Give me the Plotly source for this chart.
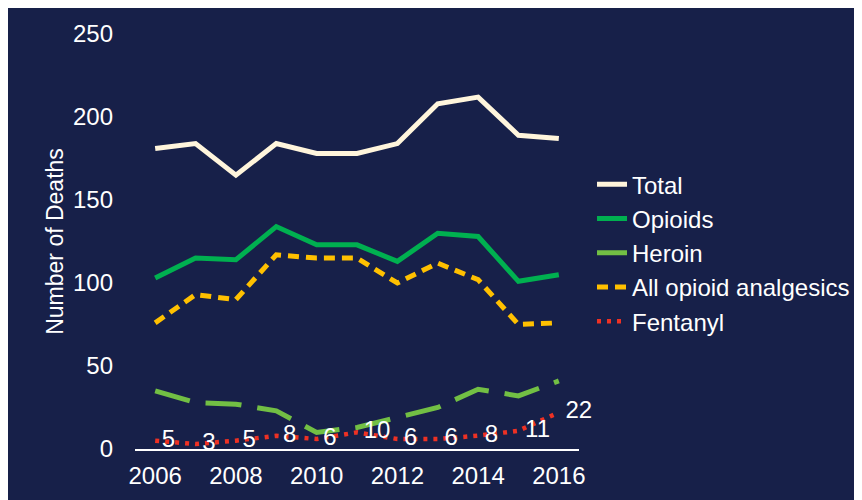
import plotly.graph_objects as go

years = [2006, 2007, 2008, 2009, 2010, 2011, 2012, 2013, 2014, 2015, 2016]
total = [181, 184, 165, 184, 178, 178, 184, 208, 212, 189, 187]
opioids = [103, 115, 114, 134, 123, 123, 113, 130, 128, 101, 105]
heroin = [35, 28, 27, 23, 10, 13, 19, 25, 36, 32, 41]
analgesics = [76, 93, 90, 117, 115, 115, 100, 112, 102, 75, 76]
fentanyl = [5, 3, 5, 8, 6, 10, 6, 6, 8, 11, 22]

NAVY = "#172049"
FONT = "Liberation Sans, Arial, sans-serif"

fig = go.Figure()
series = [
    ("Total", total, "#fff5dc", "solid", 5),
    ("Opioids", opioids, "#00b050", "solid", 5),
    ("Heroin", heroin, "#72bf44", "36px,16px", 5),
    ("All opioid analgesics", analgesics, "#ffc000", "11px,7px", 5),
]
for name, values, color, dash, width in series:
    fig.add_trace(go.Scatter(x=years, y=values, mode="lines", name=name, legendgroup=name,
                             line={"color": color, "dash": dash, "width": width}))
fig.add_trace(go.Scatter(x=years, y=fentanyl, mode="lines+text", name="Fentanyl", legendgroup="Fentanyl",
                         line={"color": "#ee3124", "dash": "4px,6px", "width": 4.5},
                         text=["\u00a0" + str(v) for v in fentanyl], textposition="middle right",
                         textfont={"color": "white", "size": 24, "family": FONT}, cliponaxis=False))

fig.update_layout(
    width=862, height=500,
    margin={"l": 127, "r": 291, "t": 23, "b": 59},
    paper_bgcolor=NAVY, plot_bgcolor=NAVY,
    font={"family": FONT, "color": "white", "size": 24},
    showlegend=True,
    legend={"x": 1.0293, "y": 0.691, "xanchor": "left", "yanchor": "top", "bgcolor": "rgba(0,0,0,0)",
            "font": {"size": 24, "color": "white"}, "tracegroupgap": 0},
    xaxis={"range": [2005.5, 2016.5], "tickvals": [2006, 2008, 2010, 2012, 2014, 2016],
           "showgrid": False, "zeroline": False, "showline": True, "linecolor": "white", "linewidth": 1.5,
           "ticks": "", "ticklabelstandoff": 4, "tickfont": {"size": 24}},
    yaxis={"range": [0, 250], "tickvals": [0, 50, 100, 150, 200, 250], "showgrid": False, "zeroline": False,
           "showline": False, "ticks": "", "ticklabelstandoff": 21, "tickfont": {"size": 24},
           "title": {"text": "Number of Deaths", "font": {"size": 23}, "standoff": 2}},
)

fig.write_html("out.html")
